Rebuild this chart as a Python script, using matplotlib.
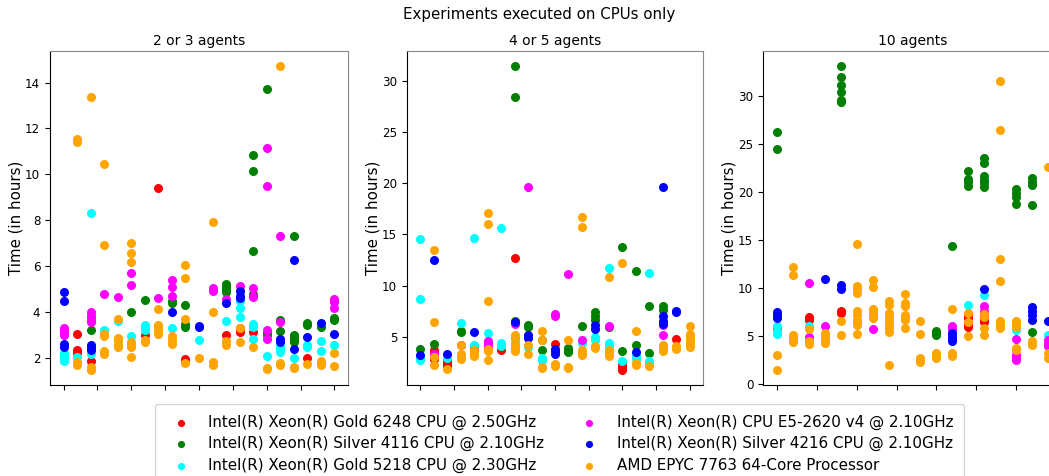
import matplotlib
matplotlib.use("Agg")
import matplotlib.pyplot as plt

# CPU names and colours (legend order)
cpus = ["Intel(R) Xeon(R) Gold 6248 CPU @ 2.50GHz",
        "Intel(R) Xeon(R) Silver 4116 CPU @ 2.10GHz",
        "Intel(R) Xeon(R) Gold 5218 CPU @ 2.30GHz",
        "Intel(R) Xeon(R) CPU E5-2620 v4 @ 2.10GHz",
        "Intel(R) Xeon(R) Silver 4216 CPU @ 2.10GHz",
        "AMD EPYC 7763 64-Core Processor"]
colors = ["red", "green", "cyan", "magenta", "blue", "orange"]
titles = ["2 or 3 agents", "4 or 5 agents", "10 agents"]

# each entry: (experiment index, [times in hours])
# ---- 2 or 3 agents
p1_gold6248 = [(1, [3.05, 2.35, 2.25]), (2, [1.88]), (6, [3.0]), (7, [9.4]), (9, [1.95]),
               (12, [3.0]), (13, [3.3, 3.15]), (14, [3.15]), (18, [2.0])]
p1_silver4116 = [(0, [3.15]), (2, [3.25]), (5, [4.0]), (6, [4.55]), (8, [4.5, 4.42]),
                 (9, [4.3, 3.5, 3.38]), (12, [5.22, 5.1, 5.0, 4.9]), (14, [10.85, 10.15, 6.65, 4.78]),
                 (15, [13.7, 3.1, 3.02]), (16, [3.67, 3.2]), (17, [7.33, 3.0, 2.9, 2.8, 2.7]),
                 (18, [3.52, 3.43]), (19, [3.38]), (20, [3.74, 3.67])]
p1_gold5218 = [(0, [2.25, 2.1, 2.0, 1.88]), (1, [2.07]), (2, [8.33, 2.2]), (3, [3.23]), (4, [3.62]),
               (5, [2.97]), (6, [3.45, 3.35, 3.25]), (8, [3.3]), (10, [2.8]), (12, [3.62]),
               (13, [4.5, 4.2, 3.8]), (14, [3.5, 3.42, 3.35, 2.83]), (15, [2.1]), (16, [2.48, 2.38, 2.29]),
               (17, [2.0]), (18, [2.58, 2.5]), (19, [2.75, 2.32]), (20, [2.58])]
p1_e52620 = [(0, [3.3, 3.15, 3.02]), (2, [4.0, 3.85, 3.7, 3.6]), (3, [4.78]), (4, [4.67]), (5, [5.7, 5.17]),
             (7, [4.62]), (8, [5.41, 5.1, 4.72]), (11, [5.04, 4.95]), (12, [4.6]), (13, [5.14]),
             (14, [5.07, 4.7, 4.65]), (15, [11.16, 9.48, 3.23, 2.84]), (16, [7.33, 3.6]), (20, [4.57, 4.45, 4.2])]
p1_silver4216 = [(0, [4.9, 4.49, 2.62, 2.5]), (2, [2.57, 2.45, 2.38]), (8, [4.03]), (10, [3.42, 3.35]),
                 (12, [4.42]), (13, [4.95, 4.72, 4.62]), (16, [2.85, 2.72]), (17, [6.28, 2.39]),
                 (18, [2.91]), (19, [3.52]), (20, [3.06])]
p1_epyc = [(1, [11.54, 11.39, 1.85, 1.7]), (2, [13.36, 1.64, 1.5]), (3, [10.46, 6.94, 3.05, 2.95, 2.3, 2.2]),
           (4, [3.7, 2.9, 2.75, 2.6, 2.48]), (5, [7.0, 6.6, 6.2, 2.7, 2.6, 2.48, 2.07]), (6, [2.8, 2.72]),
           (7, [4.13, 3.45, 3.35, 3.2, 3.08]), (8, [2.97, 2.8, 2.62]), (9, [6.07, 5.5, 3.72, 1.81]), (10, [2.0]),
           (11, [7.91, 4.03, 1.83, 1.73]), (12, [2.75, 2.65, 2.58]), (13, [3.33, 2.72]), (14, [2.51]),
           (15, [1.6, 1.53]), (16, [14.71, 1.78, 1.72]), (17, [1.64, 1.57]), (18, [1.74]),
           (19, [1.88, 1.8, 1.72]), (20, [2.22, 1.67])]

# ---- 4 or 5 agents
p2_gold6248 = [(1, [3.7, 3.45, 2.95, 2.85]), (2, [2.63, 2.4, 2.15]), (4, [4.1, 3.85]), (6, [3.72]), (7, [12.7]),
               (10, [4.28]), (15, [2.35, 2.1, 1.8]), (19, [4.82]), (20, [4.2])]
p2_silver4116 = [(0, [3.83]), (1, [4.35]), (3, [5.6, 5.45]), (7, [31.4, 28.4, 6.6]), (8, [6.2, 6.02]),
                 (9, [4.74, 3.7]), (11, [3.93, 3.75, 3.5]), (12, [6.1]), (13, [7.44, 7.0, 6.7]), (14, [5.94]),
                 (15, [13.73, 3.67]), (16, [11.46, 4.25]), (17, [7.99, 3.45]), (18, [7.99, 7.6])]
p2_gold5218 = [(0, [14.6, 8.67, 2.95, 2.8]), (2, [2.95]), (3, [6.36]), (4, [14.68, 4.25]), (5, [5.39]),
               (6, [15.58, 4.42, 4.1]), (7, [4.55]), (8, [4.03]), (9, [2.95, 2.75]), (12, [4.42]),
               (13, [5.0, 4.75]), (14, [11.69, 4.45, 4.1]), (15, [2.63]), (16, [3.12, 2.85]),
               (17, [11.2, 2.65, 2.45, 2.3])]
p2_e52620 = [(1, [3.3]), (3, [4.25]), (5, [4.58, 4.4, 4.16]), (7, [6.27]), (8, [19.58]), (10, [7.27, 7.0]),
             (11, [11.14]), (12, [4.74]), (14, [6.04]), (18, [6.2, 5.19])]
p2_silver4216 = [(0, [3.28]), (1, [12.47]), (2, [3.38]), (4, [5.45]), (7, [6.43]), (8, [5.2, 4.9]),
                 (10, [3.83, 3.6, 3.3]), (13, [6.2, 5.75]), (16, [3.5]), (18, [19.58, 7.0, 6.6, 6.3]),
                 (19, [7.55, 7.4])]
p2_epyc = [(1, [13.47, 6.46, 3.05, 2.24]), (2, [1.92]), (3, [4.22, 3.38, 3.2, 3.0, 2.85]), (4, [3.7, 3.5, 3.3, 3.15]),
           (5, [17.05, 16.0, 8.5, 3.83, 3.6, 2.79]), (7, [5.2, 4.9, 4.25, 3.9, 3.6]), (8, [4.25, 3.38]),
           (9, [5.58, 4.7, 2.08, 1.95]), (10, [2.4, 2.15]), (11, [4.74, 2.12, 1.95]),
           (12, [16.72, 15.75, 3.7, 3.45, 3.28]), (13, [4.09, 3.93]), (14, [10.84, 3.77, 3.45, 3.15]),
           (15, [12.24]), (16, [5.58, 2.47, 2.3]), (17, [2.14]), (18, [4.25, 4.0, 3.65]), (19, [4.09, 3.8]),
           (20, [6.04, 5.3, 5.0, 4.7, 4.45, 4.2, 4.0])]

# ---- 10 agents
p3_gold6248 = [(0, [5.77]), (2, [7.0, 6.74]), (4, [7.67, 7.43]), (12, [7.2, 6.9, 6.2, 5.95]),
               (13, [7.02, 6.75, 6.46])]
p3_silver4116 = [(0, [26.27, 24.47]), (4, [33.08, 31.97, 31.11, 30.35, 29.55, 29.38]), (10, [5.53, 5.3, 5.18]),
                 (11, [14.34]), (12, [22.23, 21.4, 21.0, 20.64]), (13, [23.57, 23.06, 21.7, 21.3, 20.9, 20.5]),
                 (15, [20.3, 19.9, 19.53, 18.77]), (16, [21.43, 21.0, 20.74, 18.6, 5.43])]
p3_gold5218 = [(0, [6.12, 5.55, 5.25]), (2, [6.12]), (12, [8.3]), (13, [9.3]), (15, [5.7]), (17, [5.18])]
p3_e52620 = [(2, [10.58, 4.94]), (3, [6.08]), (6, [5.77]), (11, [6.05, 5.75]), (13, [8.12, 7.67]),
             (15, [4.74, 3.11, 2.8, 2.49]), (17, [4.6, 4.25, 3.97])]
p3_silver4216 = [(0, [7.5, 7.2, 6.95]), (3, [10.96]), (4, [10.3, 9.95]), (11, [5.36, 5.0, 4.75, 4.49]),
                 (13, [9.89]), (16, [8.02, 7.6, 7.2, 6.74]), (17, [6.64])]
p3_epyc = [(0, [3.04, 1.52]), (1, [12.17, 11.34, 5.18, 4.95, 4.7, 4.42]), (2, [5.77, 4.49, 4.22]),
           (3, [5.36, 5.0, 4.75, 4.32]), (4, [6.64, 5.12]),
           (5, [14.62, 10.27, 9.9, 9.5, 7.6, 7.26, 6.74, 6.4, 6.15, 5.29]),
           (6, [10.89, 10.13, 7.85, 7.5, 7.2, 6.88]), (7, [8.71, 8.3, 7.43, 7.0, 6.6, 6.2, 5.85, 5.43, 2.0]),
           (8, [9.4, 8.47, 8.12, 7.26, 7.0, 6.74, 5.88]), (9, [6.64, 5.25, 2.77, 2.55, 2.32]),
           (10, [3.28, 3.0, 2.77]), (11, [7.85, 3.28, 2.94]), (12, [7.4, 6.5, 5.01]), (13, [7.3, 7.0, 5.88, 5.18]),
           (14, [31.59, 26.41, 13.03, 10.75, 6.57, 6.2, 5.88]), (15, [6.57, 6.25, 5.95, 3.8, 3.63]),
           (16, [4.49, 4.3, 4.15]), (17, [22.6, 3.28, 2.77])]

panels = [
    [p1_gold6248, p1_silver4116, p1_gold5218, p1_e52620, p1_silver4216, p1_epyc],
    [p2_gold6248, p2_silver4116, p2_gold5218, p2_e52620, p2_silver4216, p2_epyc],
    [p3_gold6248, p3_silver4116, p3_gold5218, p3_e52620, p3_silver4216, p3_epyc],
]


def expand(entries):
    xs, ys = [], []
    for idx, vals in entries:
        for v in vals:
            xs.append(idx)
            ys.append(v)
    return xs, ys


fig = plt.figure(figsize=(10.49, 4.76), dpi=100)

# axes boxes in pixels: left, right  (top 51, bottom 385)
boxes = [(50, 348), (407, 703), (763, 1062)]
W, H = 1049.0, 476.0

for k, (l, r) in enumerate(boxes):
    ax = fig.add_axes([l / W, 1 - 385 / H, (r - l) / W, (385 - 51) / H])
    for data, c, name in zip(panels[k], colors, cpus):
        xs, ys = expand(data)
        ax.scatter(xs, ys, s=30, color=c, label=name)
    ax.set_title(titles[k], fontsize=10, pad=4)
    ax.set_ylabel("Time (in hours)", fontsize=10.8, labelpad=1)
    ax.tick_params(axis="y", labelsize=8.6)
    ax.tick_params(axis="x", labelbottom=False)
    ax.xaxis.set_major_locator(matplotlib.ticker.MultipleLocator(2.5))
    ax.spines["top"].set_color("#888888")
    ax.spines["right"].set_color("#888888")
    if k == 0:
        handles, labels = ax.get_legend_handles_labels()

fig.text(0.514, 1 - 14 / H, "Experiments executed on CPUs only", ha="center", va="center", fontsize=10.8)

fig.legend(handles, labels, ncol=2, loc="upper left", bbox_to_anchor=(155 / W, 1 - 404 / H),
           fontsize=10.9, markerscale=0.75, labelspacing=0.42, borderpad=0.7, borderaxespad=0)

fig.savefig("out.png", dpi=100)
